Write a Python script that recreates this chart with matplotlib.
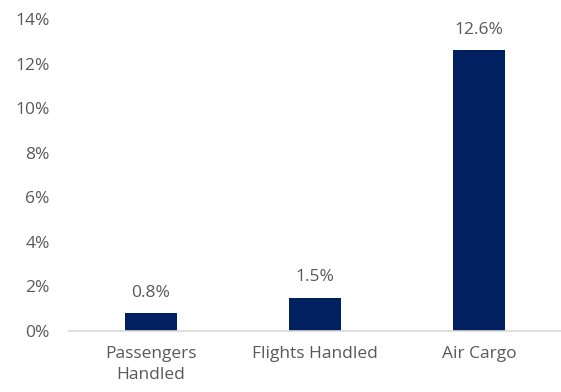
import matplotlib.pyplot as plt
import numpy as np

categories = ["Passengers\nHandled", "Flights Handled", "Air Cargo"]
growth = [0.8, 1.5, 12.6]
yticks = [0, 2, 4, 6, 8, 10, 12, 14]

plt.rcParams['font.family'] = ['Open Sans', 'DejaVu Sans']
TEXT = "#595959"
NAVY = "#002060"
FS = 12.5

fig = plt.figure(figsize=(5.61, 3.92), dpi=100)
ax = fig.add_axes([0.123, 0.1556, 0.877, 0.796])

x = np.arange(len(categories))
ax.bar(x, growth, width=0.32, color=NAVY)

# value labels above each bar
for xi, v in zip(x, growth):
    ax.annotate(f"{v:.1f}%", (xi, v), xytext=(0, 9), textcoords="offset points",
                ha="center", va="bottom", fontsize=FS, color=TEXT)

ax.set_xlim(-0.5, 2.5)
ax.set_ylim(0, 14)
ax.set_yticks(yticks)
ax.set_yticklabels([f"{t}%" for t in yticks])
ax.set_xticks(x)
ax.set_xticklabels(categories, linespacing=1.4)

ax.tick_params(axis="y", length=0, pad=14, labelsize=FS, labelcolor=TEXT)
ax.tick_params(axis="x", length=0, pad=11, labelsize=FS, labelcolor=TEXT)

for s in ["top", "right", "left"]:
    ax.spines[s].set_visible(False)
ax.spines["bottom"].set_color("#d9d9d9")
ax.spines["bottom"].set_linewidth(1.2)

fig.savefig("out.png", dpi=100)
